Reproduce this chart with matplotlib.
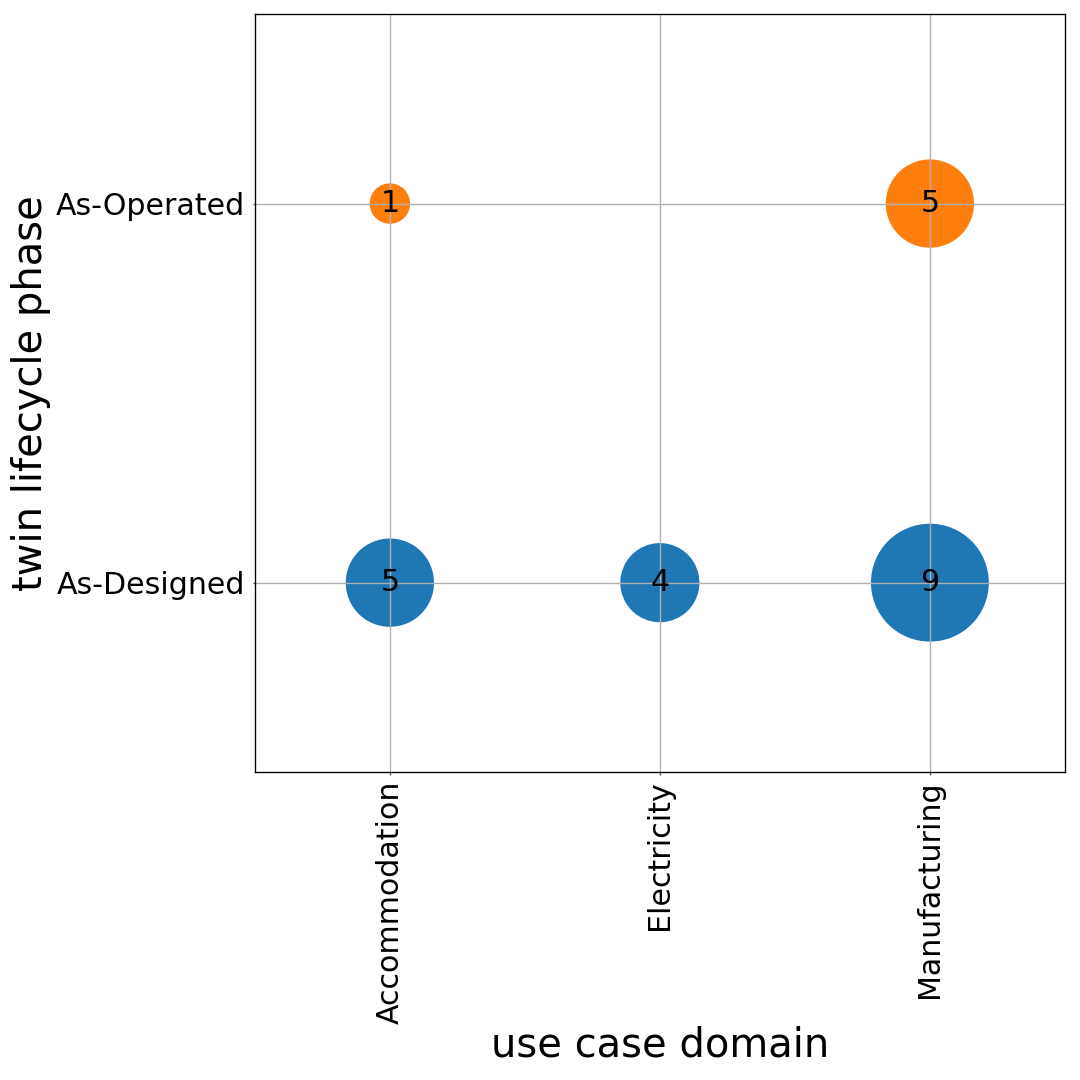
import matplotlib.pyplot as plt

domains = ['Accommodation', 'Electricity', 'Manufacturing']
phases = ['As-Designed', 'As-Operated']

# counts per (domain, phase)
designed_domains = ['Accommodation', 'Electricity', 'Manufacturing']
designed_counts = [5, 4, 9]
operated_domains = ['Accommodation', 'Manufacturing']
operated_counts = [1, 5]

fig = plt.figure(figsize=(9, 9), dpi=120)
ax = fig.add_axes([0.236, 0.285, 0.75, 0.702])

size_scale = 540

series = [
    ('As-Designed', designed_domains, designed_counts, 'tab:blue'),
    ('As-Operated', operated_domains, operated_counts, 'tab:orange'),
]

for phase, doms, counts, color in series:
    xs = [domains.index(d) for d in doms]
    ys = [phases.index(phase)] * len(doms)
    ax.scatter(xs, ys, s=[c * size_scale for c in counts], color=color)
    for x, y, c in zip(xs, ys, counts):
        ax.text(x, y, str(c), ha='center', va='center', fontsize=18)

ax.set_xticks(range(len(domains)))
ax.set_xticklabels(domains, rotation=90, fontsize=18)
ax.set_yticks(range(len(phases)))
ax.set_yticklabels(phases, fontsize=18)
ax.tick_params(axis='x', length=1.5, color='#555555', pad=3.5)
ax.tick_params(axis='y', length=1.5, color='#555555', pad=4.5)
ax.set_xlim(-0.5, 2.5)
ax.set_ylim(-0.5, 1.5)
ax.grid(True)

ax.set_xlabel('use case domain', fontsize=24, labelpad=1)
ax.set_ylabel('twin lifecycle phase', fontsize=24, labelpad=3)

fig.savefig('out.png', dpi=120)
